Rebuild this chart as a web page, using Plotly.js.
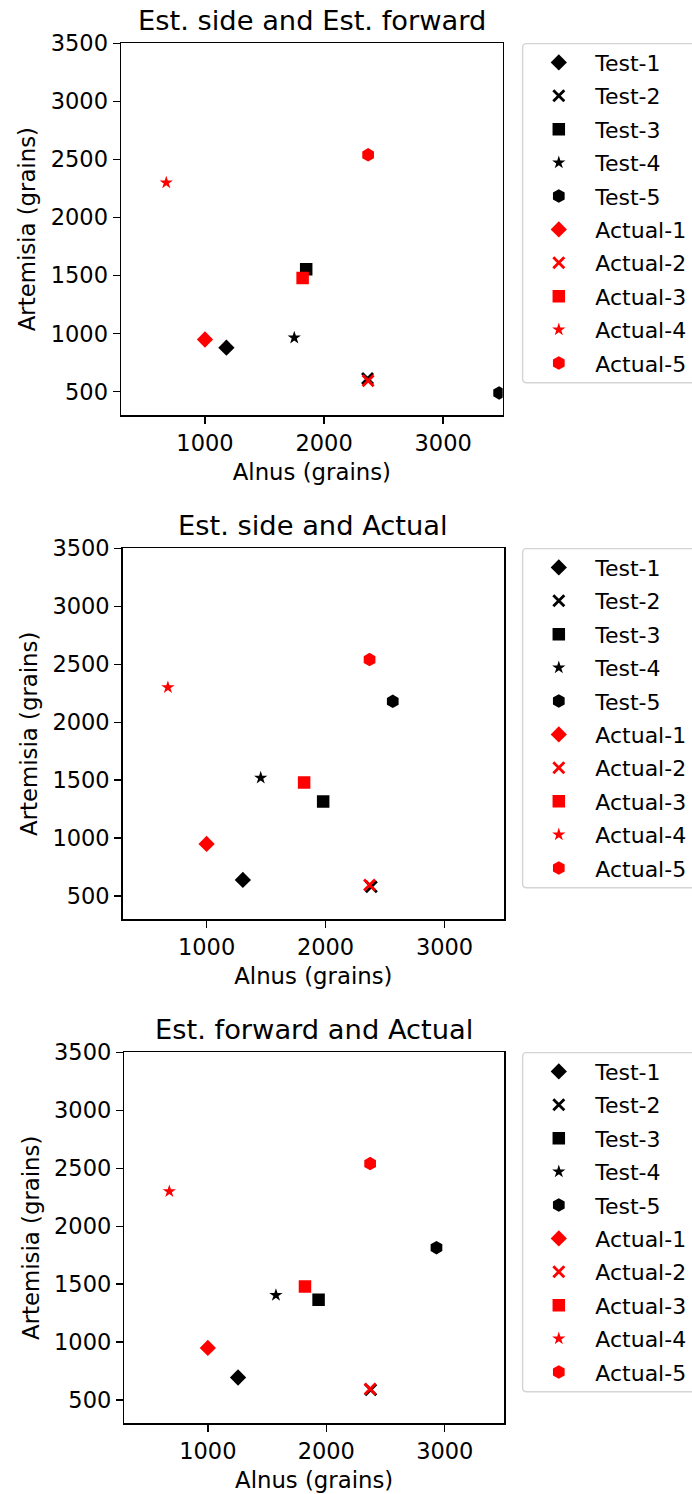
<!DOCTYPE html>
<html>
<head>
<meta charset="utf-8">
<script src="https://cdn.plot.ly/plotly-3.0.1.min.js"></script>
<style>html,body{margin:0;padding:0;background:#fff;}#chart{width:692px;height:1494px;}</style>
</head>
<body>
<div id="chart"></div>
<script>
// ---- data ----
const subplotTitles = ["Est. side and Est. forward", "Est. side and Actual", "Est. forward and Actual"];
const testNames = ["Test-1", "Test-2", "Test-3", "Test-4", "Test-5"];
const actualNames = ["Actual-1", "Actual-2", "Actual-3", "Actual-4", "Actual-5"];
const testX1 = [1180, 2365, 1850, 1750, 3470];
const testY1 = [880, 615, 1555, 965, 490];
const testX2 = [1305, 2385, 1980, 1455, 2565];
const testY2 = [640, 580, 1315, 1520, 2180];
const testX3 = [1255, 2375, 1935, 1575, 2930];
const testY3 = [695, 590, 1365, 1405, 1815];
const actualX = [1000, 2370, 1820, 675, 2370];
const actualY = [950, 595, 1480, 2300, 2540];
const xTicks = [1000, 2000, 3000];
const yTicks = [500, 1000, 1500, 2000, 2500, 3000, 3500];
const xLabel = "Alnus (grains)";
const yLabel = "Artemisia (grains)";

// ---- styling / layout ----
const W = 692, H = 1494;
const FONT = "DejaVu Sans, sans-serif";
const symbols = ["diamond", "x-thin", "square", "star", "hexagon"];
const sizes = [12.5, 11, 12.5, 10, 13.5];
const boxes = [
  {l: 121, r: 502.7, t: 43.3, b: 415},
  {l: 122.7, r: 504, t: 548.3, b: 919.3},
  {l: 124.3, r: 504, t: 1052.3, b: 1423.3}
];
const testXs = [testX1, testX2, testX3];
const testYs = [testY1, testY2, testY3];

function markerFor(i, color) {
  const m = {symbol: symbols[i], size: sizes[i], color: color, line: {width: 0}};
  if (symbols[i] === "x-thin") m.line = {width: 2.8, color: color};
  return m;
}

// rounded legend frame (in paper coords), running off the right edge like the reference
function framePath(x0, y0, x1, y1, r) {
  const px = v => (v / W).toFixed(5);
  const py = v => (1 - v / H).toFixed(5);
  return "M" + px(x0 + r) + "," + py(y0) +
    " L" + px(x1) + "," + py(y0) +
    " L" + px(x1) + "," + py(y1) +
    " L" + px(x0 + r) + "," + py(y1) +
    " Q" + px(x0) + "," + py(y1) + " " + px(x0) + "," + py(y1 - r) +
    " L" + px(x0) + "," + py(y0 + r) +
    " Q" + px(x0) + "," + py(y0) + " " + px(x0 + r) + "," + py(y0) + " Z";
}

const traces = [];
const layout = {
  width: W, height: H,
  margin: {l: 0, r: 0, t: 0, b: 0},
  paper_bgcolor: "#fff", plot_bgcolor: "#fff",
  font: {family: FONT, color: "#000", size: 22},
  showlegend: true,
  annotations: [],
  shapes: []
};

for (let k = 0; k < 3; k++) {
  const sfx = k === 0 ? "" : String(k + 1);
  const xa = "x" + sfx, ya = "y" + sfx;
  const lg = "legend" + sfx;
  for (let i = 0; i < 5; i++) {
    traces.push({
      type: "scatter", mode: "markers",
      x: [testXs[k][i]], y: [testYs[k][i]],
      name: testNames[i], xaxis: xa, yaxis: ya, legend: lg,
      legendgroup: "g" + k + "t" + i,
      marker: markerFor(i, "#000000"), hoverinfo: "x+y+name"
    });
  }
  for (let i = 0; i < 5; i++) {
    traces.push({
      type: "scatter", mode: "markers",
      x: [actualX[i]], y: [actualY[i]],
      name: actualNames[i], xaxis: xa, yaxis: ya, legend: lg,
      legendgroup: "g" + k + "a" + i,
      marker: markerFor(i, "#ff0000"), hoverinfo: "x+y+name"
    });
  }
  const b = boxes[k];
  const axCommon = {
    showgrid: false, zeroline: false, showline: true, mirror: true,
    linecolor: "#000", linewidth: 1.5,
    ticks: "outside", ticklen: 7, tickwidth: 1.4, tickcolor: "#000",
    tickfont: {family: FONT, size: 22.5, color: "#000"},
    fixedrange: true
  };
  layout["xaxis" + sfx] = Object.assign({}, axCommon, {
    anchor: ya, domain: [b.l / W, b.r / W], range: [295, 3500],
    tickmode: "array", tickvals: xTicks, ticktext: xTicks.map(String),
    title: {text: xLabel, font: {family: FONT, size: 22.8, color: "#000"}, standoff: 9}
  });
  layout["yaxis" + sfx] = Object.assign({}, axCommon, {
    anchor: xa, domain: [1 - b.b / H, 1 - b.t / H], range: [300, 3500],
    tickmode: "array", tickvals: yTicks, ticktext: yTicks.map(String),
    title: {text: yLabel, font: {family: FONT, size: 22.8, color: "#000"}, standoff: 8}
  });
  layout[lg] = {
    x: 522.3 / W, y: 1 - (b.t - 1.7) / H, xanchor: "left", yanchor: "top",
    bgcolor: "rgba(255,255,255,0)", borderwidth: 0,
    font: {family: FONT, size: 22, color: "#000"},
    traceorder: "grouped", tracegroupgap: 1.8, itemsizing: "trace",
    itemwidth: 63,
    itemclick: false, itemdoubleclick: false
  };
  layout.shapes.push({
    type: "path", xref: "paper", yref: "paper", layer: "below",
    path: framePath(522.6, b.t + 0.3, 760, b.t + 339.5, 4),
    line: {color: "#d4d4d4", width: 1.4}, fillcolor: "rgba(255,255,255,0.8)"
  });
  layout.annotations.push({
    text: subplotTitles[k], xref: "paper", yref: "paper",
    x: ((b.l + b.r) / 2) / W, y: 1 - (b.t - 22.5) / H,
    xanchor: "center", yanchor: "middle", showarrow: false,
    font: {family: FONT, size: 27.3, color: "#000"}
  });
}

Plotly.newPlot("chart", traces, layout, {displayModeBar: false, staticPlot: true});
</script>
</body>
</html>
